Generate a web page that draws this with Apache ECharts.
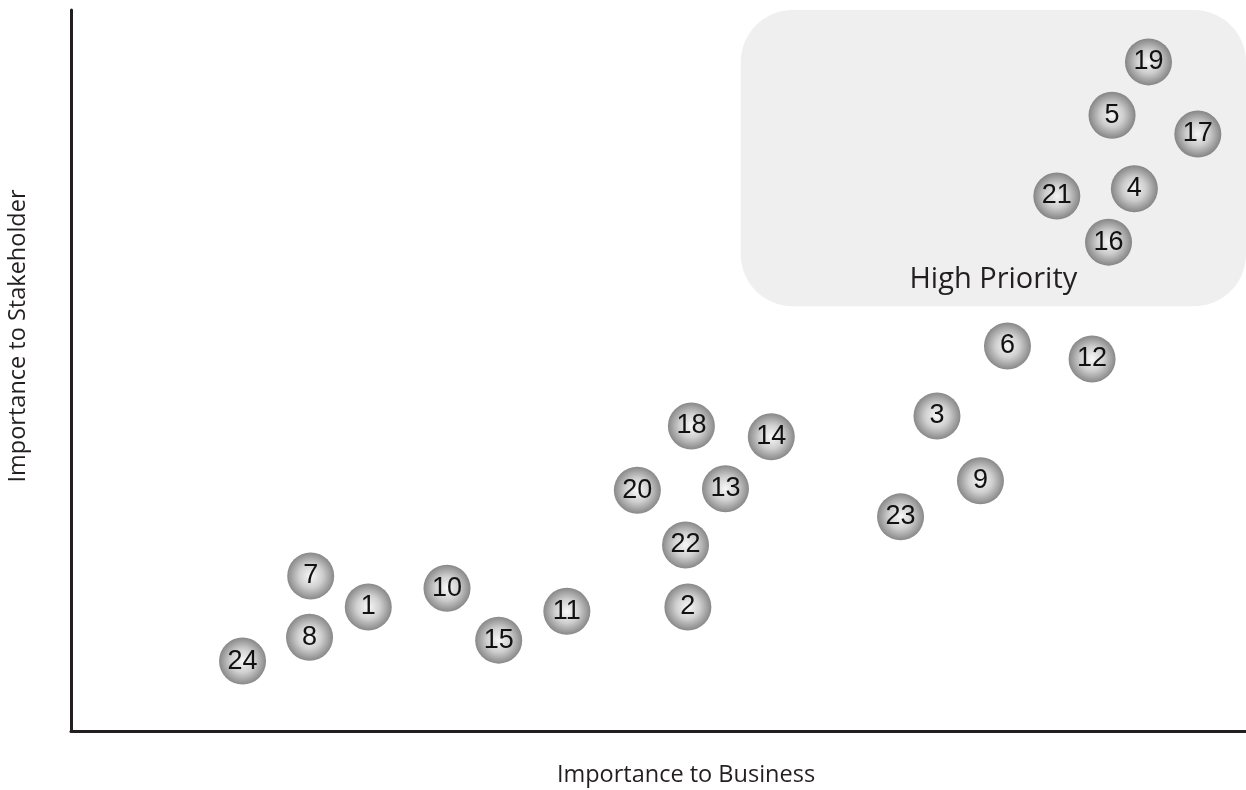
<!DOCTYPE html>
<html>
<head>
<meta charset="utf-8">
<script src="https://cdn.jsdelivr.net/npm/echarts@6/dist/echarts.min.js"></script>
<style>
html,body{margin:0;padding:0;background:#fff;}
#chart{width:1246px;height:790px;}
</style>
</head>
<body>
<div id="chart"></div>
<script>
// Topic ids and positions (0–100 scale on both axes)
const ids = ['1','2','3','4','5','6','7','8','9','10','11','12','13','14','15','16','17','18','19','20','21','22','23','24'];
const business = [25.3,52.5,73.7,90.5,88.6,79.7,20.4,20.3,77.4,32.0,42.2,86.9,55.7,59.6,36.4,88.3,95.9,52.8,91.7,48.2,83.9,52.3,70.6,14.6];
const stakeholder = [17.2,17.2,43.7,75.2,85.4,53.4,21.5,13.0,34.7,19.8,16.6,51.6,33.6,40.8,12.6,67.8,82.8,42.3,92.8,33.4,74.2,25.8,29.7,9.7];
// High priority zone: [xMin, xMax, yMin, yMax]
const zone = [57.0, 100, 58.9, 100];
const zoneLabel = 'High Priority';
const zoneLabelPos = [78.5, 62.6];
const xName = 'Importance to Business';
const yName = 'Importance to Stakeholder';

const points = ids.map((id, i) => ({ name: id, value: [business[i], stakeholder[i]] }));

const chart = echarts.init(document.getElementById('chart'));
chart.setOption({
  animation: false,
  backgroundColor: '#ffffff',
  grid: { left: 71, right: 0, top: 10, bottom: 59 },
  xAxis: {
    type: 'value', min: 0, max: 100,
    axisLine: { show: true, lineStyle: { color: '#231f20', width: 3 } },
    axisTick: { show: false }, axisLabel: { show: false }, splitLine: { show: false }
  },
  yAxis: {
    type: 'value', min: 0, max: 100,
    axisLine: { show: true, lineStyle: { color: '#231f20', width: 3 } },
    axisTick: { show: false }, axisLabel: { show: false }, splitLine: { show: false }
  },
  graphic: [
    { type: 'text', x: 686, y: 775, style: { text: xName, font: '23.5px "Open Sans"', fill: '#231f20', align: 'center', verticalAlign: 'middle' } },
    { type: 'text', x: 18, y: 336, rotation: Math.PI / 2, style: { text: yName, font: '23.5px "Open Sans"', fill: '#231f20', align: 'center', verticalAlign: 'middle' } }
  ],
  series: [
    {
      type: 'custom',
      silent: true,
      z: 1,
      data: [[zone[0], zone[1], zone[2], zone[3]]],
      renderItem: function (params, api) {
        const p1 = api.coord([api.value(0), api.value(3)]);
        const p2 = api.coord([api.value(1), api.value(2)]);
        const lp = api.coord(zoneLabelPos);
        return {
          type: 'group',
          children: [
            { type: 'rect', shape: { x: p1[0], y: p1[1], width: p2[0] - p1[0], height: p2[1] - p1[1], r: 52 }, style: { fill: '#efefef' } },
            { type: 'text', x: lp[0], y: lp[1], style: { text: zoneLabel, font: '29px "Open Sans"', fill: '#231f20', align: 'center', verticalAlign: 'middle' } }
          ]
        };
      }
    },
    {
      type: 'scatter',
      z: 5,
      symbolSize: 47,
      data: points,
      itemStyle: {
        color: {
          type: 'radial', x: 0.5, y: 0.5, r: 0.5,
          colorStops: [
            { offset: 0, color: '#f6f6f6' },
            { offset: 0.5, color: '#c4c4c4' },
            { offset: 1, color: '#6a6a6a' }
          ]
        }
      },
      label: {
        show: true, position: 'inside',
        formatter: '{b}',
        color: '#111111', fontSize: 27, fontFamily: '"Liberation Sans", Arial, sans-serif',
        textBorderWidth: 0, textShadowBlur: 0, opacity: 1
      }
    }
  ]
});
</script>
</body>
</html>
